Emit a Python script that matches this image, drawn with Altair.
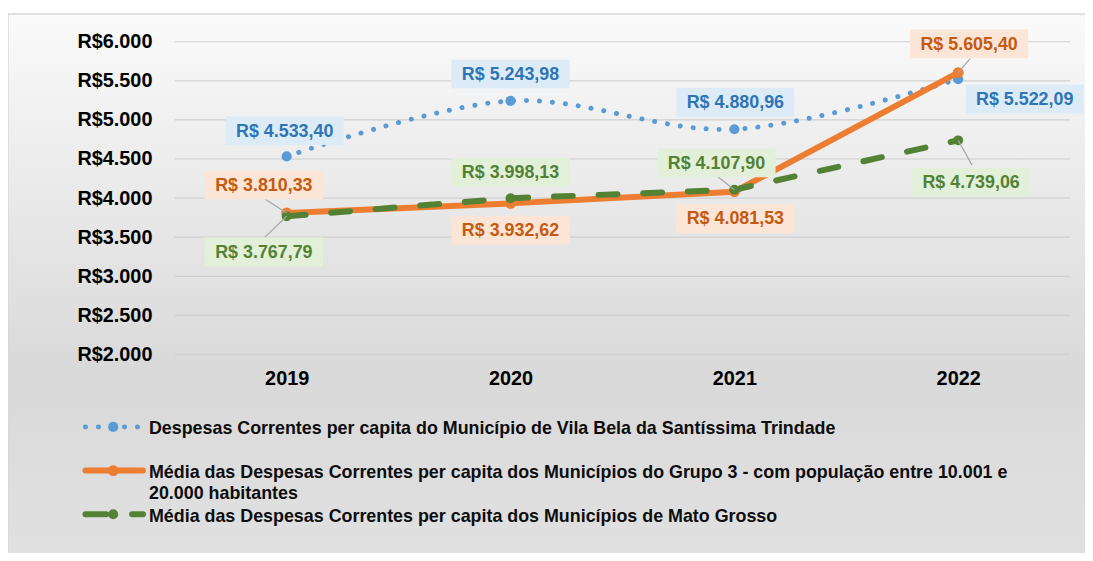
import altair as alt
import pandas as pd

# ---------------- data ----------------
years = ["2019", "2020", "2021", "2022"]
series_names = [
    "Despesas Correntes  per capita do Município de Vila Bela da Santíssima Trindade",
    "Média das Despesas Correntes  per capita dos Municípios do Grupo 3 - com população entre 10.001 e 20.000 habitantes",
    "Média das Despesas Correntes per capita dos Municípios de Mato Grosso",
]
vila_bela = [4533.40, 5243.98, 4880.96, 5522.09]
grupo3 = [3810.33, 3932.62, 4081.53, 5605.40]
mato_grosso = [3767.79, 3998.13, 4107.90, 4739.06]
y_ticks = [2000, 2500, 3000, 3500, 4000, 4500, 5000, 5500, 6000]

# ---------------- style / layout ----------------
line_colors = ["#5b9bd5", "#ed7d31", "#548235"]
text_colors = ["#2e75b6", "#c55a11", "#548235"]
box_colors = ["#ddebf7", "#fbe5d6", "#e2f0d9"]
FONT = "Liberation Sans"
W, H = 902, 315

# label box offsets (pixels) from each point
label_offsets = [
    [(-2, -26), (0, -27), (1, -27), (67, 20)],
    [(-23, -28), (0, 27), (1, 27), (11, -29)],
    [(-23, 36), (0, -26), (-18, -27), (13, 42)],
]
# leader lines: (series index, year index, end dx, end dy)
leaders = [(1, 0, -22, -14), (2, 0, -22, 21), (2, 2, -18, -14), (1, 3, 12, -14), (2, 3, 14, 25)]


def fmt(v):
    s = f"{v:,.2f}"
    return "R$ " + s.replace(",", "X").replace(".", ",").replace("X", ".")


rows = []
for si, (name, vals) in enumerate(zip(series_names, [vila_bela, grupo3, mato_grosso])):
    for yi, (yr, v) in enumerate(zip(years, vals)):
        rows.append({"serie": name, "si": si, "yi": yi, "ano": yr, "valor": v, "rotulo": fmt(v)})
df = pd.DataFrame(rows)

xscale = alt.Scale(type="point", padding=0.5, domain=years)
yscale = alt.Scale(domain=[2000, 6000], nice=False, zero=False)

x_axis = alt.Axis(labelAngle=0, labelPadding=14, ticks=False, domain=False, grid=False,
                  labelFont=FONT, labelFontSize=20, labelFontWeight="bold", labelColor="#000000",
                  title=None, zindex=1)
y_axis = alt.Axis(values=y_ticks, labelExpr="'R$' + replace(format(datum.value, ','), ',', '.')",
                  ticks=False, domain=False, grid=False,
                  labelFont=FONT, labelFontSize=20, labelFontWeight="bold", labelColor="#000000",
                  labelPadding=23, title=None, zindex=1)

X = alt.X("ano:O", scale=xscale, axis=x_axis)
Y = alt.Y("valor:Q", scale=yscale, axis=y_axis)

base = alt.Chart(df)

layers = []

# background panel
bg = alt.Chart(pd.DataFrame({"k": [0]})).mark_rect(
    fill=alt.LinearGradient(
        gradient="linear",
        stops=[alt.GradientStop(offset=0, color="#fafafa"),
               alt.GradientStop(offset=0.62, color="#d9d9d9"),
               alt.GradientStop(offset=1, color="#e2e2e2")],
        x1=0, x2=0, y1=0, y2=1),
    stroke="#d9d9d9", strokeWidth=1.5,
).encode(x=alt.value(-168), x2=alt.value(W + 30), y=alt.value(-28), y2=alt.value(H + 240))
layers.append(bg)

# gridlines
grid = alt.Chart(pd.DataFrame({"valor": y_ticks})).mark_rule(color="#d0d0d0", strokeWidth=1.2).encode(
    y=Y, x=alt.value(0), x2=alt.value(W))
layers.append(grid)

line_styles = [
    dict(strokeWidth=5, strokeDash=[0.1, 13], strokeCap="round", interpolate="catmull-rom"),
    dict(strokeWidth=6, strokeCap="round"),
    dict(strokeWidth=6, strokeDash=[19, 26], strokeCap="round"),
]
point_sizes = [105, 120, 100]

for si in range(3):
    sub = base.transform_filter(alt.datum.si == si)
    layers.append(sub.mark_line(color=line_colors[si], **line_styles[si]).encode(x=X, y=Y))
    layers.append(sub.mark_circle(color=line_colors[si], opacity=1, size=point_sizes[si]).encode(x=X, y=Y))

# leader lines
for si, yi, dx, dy in leaders:
    sub = base.transform_filter((alt.datum.si == si) & (alt.datum.yi == yi))
    layers.append(sub.mark_rule(color="#a6a6a6", strokeWidth=1.2, x2Offset=dx, y2Offset=dy).encode(
        x=X, y=Y, x2="ano:O", y2="valor:Q"))

# data labels
BW, BH = 119, 29
box_path = f"M-1,-{BH / BW:.4f}L1,-{BH / BW:.4f}L1,{BH / BW:.4f}L-1,{BH / BW:.4f}Z"
for si in range(3):
    for yi in range(4):
        dx, dy = label_offsets[si][yi]
        sub = base.transform_filter((alt.datum.si == si) & (alt.datum.yi == yi))
        layers.append(sub.mark_point(shape=box_path, size=BW * BW, filled=True, fill=box_colors[si],
                                     opacity=1, strokeWidth=0, xOffset=dx, yOffset=dy).encode(x=X, y=Y))
        layers.append(sub.mark_text(font=FONT, fontSize=18, fontWeight="bold", color=text_colors[si],
                                    align="center", baseline="middle", dx=dx, dy=dy + 1).encode(
            x=X, y=Y, text="rotulo:N"))

# custom legend
leg_y = [388, 432, 476]
leg = alt.Chart(pd.DataFrame({"k": [0]}))
# row 1: dotted blue
layers.append(leg.mark_rule(color=line_colors[0], strokeWidth=5, strokeDash=[0.1, 13], strokeCap="round").encode(
    x=alt.value(-90), x2=alt.value(-30), y=alt.value(leg_y[0])))
# row 2: solid orange
layers.append(leg.mark_rule(color=line_colors[1], strokeWidth=6, strokeCap="round").encode(
    x=alt.value(-90), x2=alt.value(-32), y=alt.value(leg_y[1])))
# row 3: dashed green (two dashes)
layers.append(leg.mark_rule(color=line_colors[2], strokeWidth=6, strokeCap="round").encode(
    x=alt.value(-90), x2=alt.value(-69), y=alt.value(leg_y[2])))
layers.append(leg.mark_rule(color=line_colors[2], strokeWidth=6, strokeCap="round").encode(
    x=alt.value(-43), x2=alt.value(-32), y=alt.value(leg_y[2])))
for si in range(3):
    layers.append(leg.mark_circle(color=line_colors[si], opacity=1, size=point_sizes[si]).encode(
        x=alt.value(-62), y=alt.value(leg_y[si])))

legend_texts = [series_names[0],
                series_names[1].replace(" e 20.000", " e\n20.000"),
                series_names[2]]
for si in range(3):
    layers.append(leg.mark_text(font=FONT, fontSize=18, fontWeight="bold", color="#0d0d0d",
                                align="left", baseline="middle", lineBreak="\n", lineHeight=21).encode(
        x=alt.value(-26), y=alt.value(leg_y[si] + 2.5), text=alt.value(legend_texts[si])))

chart = alt.layer(*layers).properties(
    width=W, height=H,
    autosize=alt.AutoSizeParams(type="none"),
    padding={"left": 168, "top": 32, "right": 15, "bottom": 198},
).configure_view(stroke=None).configure(background="white")

chart.save("out.html", embed_options={"renderer": "svg", "actions": False})
